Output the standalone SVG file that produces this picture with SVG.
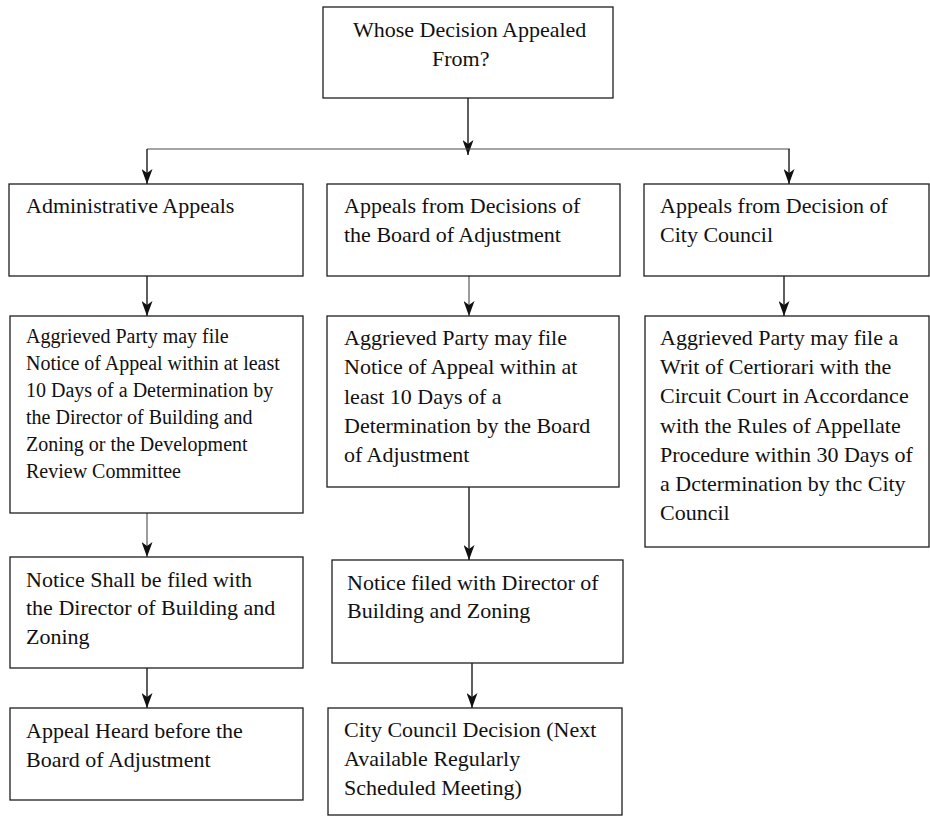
<svg xmlns="http://www.w3.org/2000/svg" width="930" height="816" viewBox="0 0 930 816">
  <defs>
    <style>
      .box { fill: #ffffff; stroke: #1e1e1e; stroke-width: 1.3; }
      .txt { font-family: "Liberation Serif", "Times New Roman", serif; font-size: 22px; fill: #111111; }
      .sm { font-size: 20px; }
      .wire { fill: none; stroke: #1a1a1a; stroke-width: 1.4; }
      .wire-light { fill: none; stroke: #4a4a4a; stroke-width: 1.1; }
    </style>
    <marker id="arrowDown" viewBox="0 0 11 15" refX="5.5" refY="15" markerWidth="11" markerHeight="15" markerUnits="userSpaceOnUse" orient="0">
      <path d="M0,0 L5.5,4 L11,0 L5.5,15 Z" fill="#111111"/>
    </marker>
  </defs>

  <rect width="930" height="816" fill="#ffffff"/>

  <!-- connectors -->
  <g id="connectors">
    <!-- root to branch bar -->
    <line class="wire" x1="468" y1="98" x2="468" y2="155" marker-end="url(#arrowDown)"/>
    <line class="wire-light" x1="147" y1="149" x2="790" y2="149"/>
    <line class="wire" x1="147" y1="149" x2="147" y2="184" marker-end="url(#arrowDown)"/>
    <line class="wire" x1="789" y1="149" x2="789" y2="184" marker-end="url(#arrowDown)"/>
    <!-- left column -->
    <line class="wire" x1="147" y1="276" x2="147" y2="316" marker-end="url(#arrowDown)"/>
    <line class="wire-light" x1="147" y1="513" x2="147" y2="557" marker-end="url(#arrowDown)"/>
    <line class="wire" x1="147" y1="668" x2="147" y2="708" marker-end="url(#arrowDown)"/>
    <!-- middle column -->
    <line class="wire-light" x1="469" y1="276" x2="469" y2="316" marker-end="url(#arrowDown)"/>
    <line class="wire" x1="469" y1="487" x2="469" y2="560" marker-end="url(#arrowDown)"/>
    <line class="wire" x1="472" y1="663" x2="472" y2="708" marker-end="url(#arrowDown)"/>
    <!-- right column -->
    <line class="wire" x1="784" y1="276" x2="784" y2="316" marker-end="url(#arrowDown)"/>
  </g>

  <!-- root question -->
  <g id="n-root">
    <rect class="box" x="323" y="7" width="290" height="91"/>
    <text class="txt" x="353" y="37">Whose Decision Appealed</text>
    <text class="txt" x="432" y="66">From?</text>
  </g>

  <!-- left column -->
  <g id="n-admin">
    <rect class="box" x="9" y="184" width="294" height="92"/>
    <text class="txt" x="26" y="213">Administrative Appeals</text>
  </g>
  <g id="n-admin-file">
    <rect class="box" x="10" y="316" width="293" height="197"/>
    <text class="txt sm" x="26" y="343">Aggrieved Party may file</text>
    <text class="txt sm" x="26" y="370">Notice of Appeal within at least</text>
    <text class="txt sm" x="26" y="397">10 Days of a Determination by</text>
    <text class="txt sm" x="26" y="424">the Director of Building and</text>
    <text class="txt sm" x="26" y="451">Zoning or the Development</text>
    <text class="txt sm" x="26" y="478">Review Committee</text>
  </g>
  <g id="n-admin-notice">
    <rect class="box" x="10" y="557" width="293" height="111"/>
    <text class="txt" x="26" y="587">Notice Shall be filed with</text>
    <text class="txt" x="26" y="615">the Director of Building and</text>
    <text class="txt" x="26" y="644">Zoning</text>
  </g>
  <g id="n-admin-heard">
    <rect class="box" x="10" y="708" width="293" height="92"/>
    <text class="txt" x="26" y="738">Appeal Heard before the</text>
    <text class="txt" x="26" y="767">Board of Adjustment</text>
  </g>

  <!-- middle column -->
  <g id="n-boa">
    <rect class="box" x="327" y="184" width="293" height="92"/>
    <text class="txt" x="344" y="213">Appeals from Decisions of</text>
    <text class="txt" x="344" y="242">the Board of Adjustment</text>
  </g>
  <g id="n-boa-file">
    <rect class="box" x="327" y="316" width="292" height="171"/>
    <text class="txt" x="344" y="345">Aggrieved Party may file</text>
    <text class="txt" x="344" y="374">Notice of Appeal within at</text>
    <text class="txt" x="344" y="404">least 10 Days of a</text>
    <text class="txt" x="344" y="433">Determination by the Board</text>
    <text class="txt" x="344" y="462">of Adjustment</text>
  </g>
  <g id="n-boa-notice">
    <rect class="box" x="332" y="560" width="291" height="103"/>
    <text class="txt" x="347" y="590">Notice filed with Director of</text>
    <text class="txt" x="347" y="618">Building and Zoning</text>
  </g>
  <g id="n-boa-council">
    <rect class="box" x="328" y="708" width="294" height="107"/>
    <text class="txt" x="344" y="737">City Council Decision (Next</text>
    <text class="txt" x="344" y="766">Available Regularly</text>
    <text class="txt" x="344" y="795">Scheduled Meeting)</text>
  </g>

  <!-- right column -->
  <g id="n-council">
    <rect class="box" x="644" y="184" width="285" height="92"/>
    <text class="txt" x="660" y="213">Appeals from Decision of</text>
    <text class="txt" x="660" y="242">City Council</text>
  </g>
  <g id="n-council-writ">
    <rect class="box" x="645" y="316" width="284" height="231"/>
    <text class="txt" x="660" y="345">Aggrieved Party may file a</text>
    <text class="txt" x="660" y="374">Writ of Certiorari with the</text>
    <text class="txt" x="660" y="403">Circuit Court in Accordance</text>
    <text class="txt" x="660" y="433">with the Rules of Appellate</text>
    <text class="txt" x="660" y="462">Procedure within 30 Days of</text>
    <text class="txt" x="660" y="491">a Dctermination by thc City</text>
    <text class="txt" x="660" y="520">Council</text>
  </g>
</svg>
